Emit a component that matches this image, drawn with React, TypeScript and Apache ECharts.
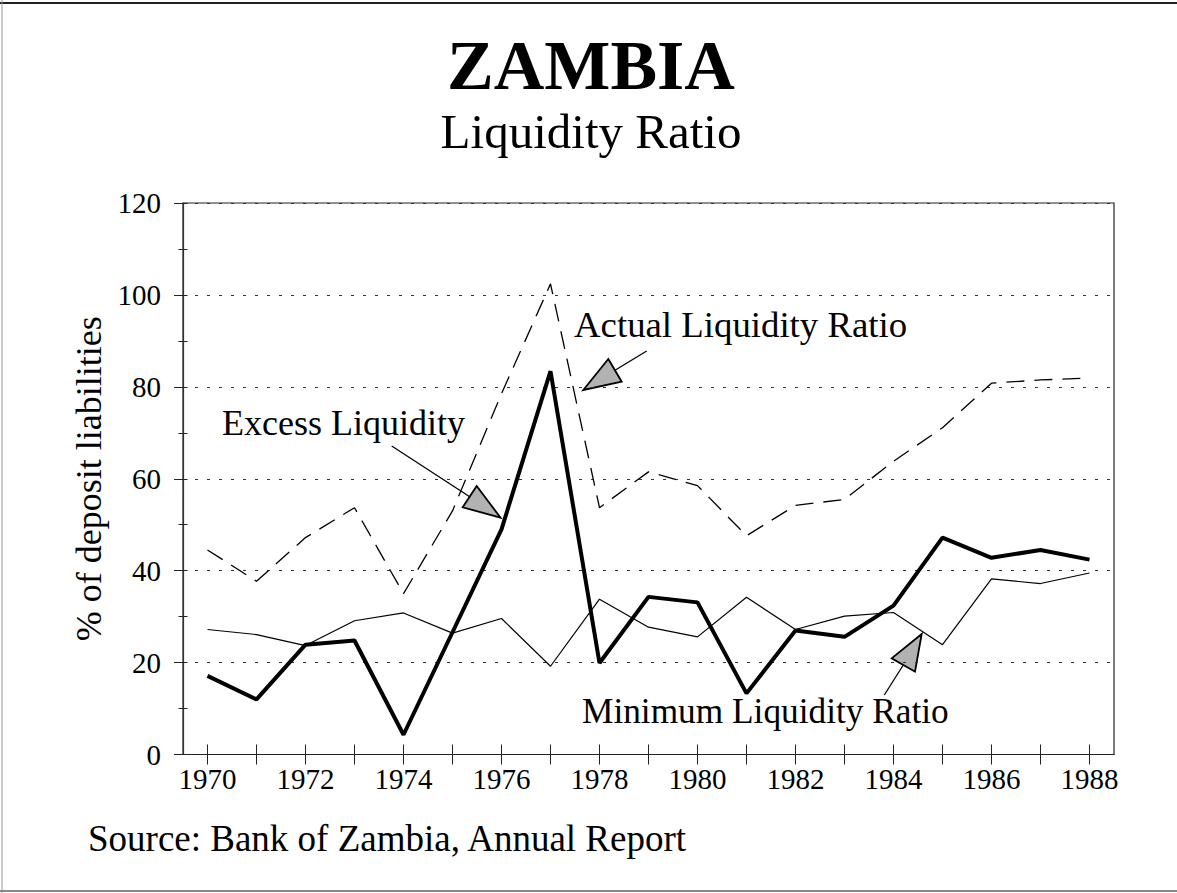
import React, { useEffect, useRef } from 'react';
import * as echarts from 'echarts';

const years = ['1970', '1971', '1972', '1973', '1974', '1975', '1976', '1977', '1978', '1979',
  '1980', '1981', '1982', '1983', '1984', '1985', '1986', '1987', '1988'];

const actualRatio = [44.5, 37.7, 47.2, 53.7, 35.0, 53.0, 78.5, 102.4, 53.7, 61.5,
  58.5, 47.6, 54.2, 55.5, 63.8, 71.1, 80.8, 81.5, 81.9];

const minimumRatio = [27.2, 26.1, 23.7, 29.1, 30.8, 26.4, 29.6, 19.2, 33.8, 27.7,
  25.6, 34.2, 27.2, 30.1, 30.9, 23.9, 38.2, 37.2, 39.5];

const excessLiquidity = [17.1, 12.0, 23.9, 24.8, 4.3, 26.6, 49.0, 83.4, 19.9, 34.3,
  33.1, 13.3, 27.0, 25.6, 32.4, 47.2, 42.8, 44.5, 42.4];

const yTicks = { min: 0, max: 120, interval: 20 };

const FONT = "'Liberation Serif', 'Times New Roman', serif";
const ARROW_FILL = '#b2b2b2';

function arrow(line: number[], tri: number[][]) {
  return {
    type: 'group',
    children: [
      {
        type: 'line',
        shape: { x1: line[0], y1: line[1], x2: line[2], y2: line[3] },
        style: { stroke: '#000', lineWidth: 1.3 },
      },
      {
        type: 'polygon',
        shape: { points: tri },
        style: { fill: ARROW_FILL, stroke: '#000', lineWidth: 1.8, lineJoin: 'miter' },
      },
    ],
  };
}

function label(text: string, x: number, y: number, size = 36) {
  return {
    type: 'text',
    x,
    y,
    style: {
      text,
      fontFamily: FONT,
      fontSize: size,
      fill: '#000',
      textAlign: 'left',
      textVerticalAlign: 'middle',
    },
  };
}

export default function App() {
  const ref = useRef<HTMLDivElement>(null);

  useEffect(() => {
    const chart = echarts.init(ref.current!, null, { renderer: 'svg' });
    chart.setOption({
      animation: false,
      backgroundColor: '#fff',
      title: {
        text: 'ZAMBIA',
        subtext: 'Liquidity Ratio',
        left: 591,
        textAlign: 'center',
        top: 30,
        itemGap: 7,
        padding: 0,
        textStyle: { fontFamily: FONT, fontSize: 70, fontWeight: 'bold', color: '#000', lineHeight: 70 },
        subtextStyle: { fontFamily: FONT, fontSize: 49, color: '#000', lineHeight: 49 },
      },
      grid: {
        left: 183,
        right: 63,
        top: 203,
        bottom: 138.5,
        show: true,
        borderColor: '#222',
        borderWidth: 1.2,
        backgroundColor: 'transparent',
      },
      xAxis: [
        {
          type: 'category',
          data: years,
          boundaryGap: true,
          axisLine: { show: true, lineStyle: { color: '#222', width: 1.2 } },
          axisTick: { show: true, alignWithLabel: true, interval: 0, length: 10, lineStyle: { color: '#222', width: 1 } },
          axisLabel: { interval: 1, margin: 10, fontFamily: FONT, fontSize: 29, color: '#000' },
          splitLine: { show: false },
        },
        {
          type: 'category',
          data: years,
          position: 'bottom',
          boundaryGap: true,
          axisLine: { show: false },
          axisTick: { show: true, inside: true, alignWithLabel: true, interval: 0, length: 10, lineStyle: { color: '#222', width: 1 } },
          axisLabel: { show: false },
          splitLine: { show: false },
        },
      ],
      yAxis: [
        {
          type: 'value',
          min: yTicks.min,
          max: yTicks.max,
          interval: yTicks.interval,
          name: '% of deposit liabilities',
          nameLocation: 'middle',
          nameGap: 76,
          nameTextStyle: { fontFamily: FONT, fontSize: 36, color: '#000' },
          axisLine: { show: true, lineStyle: { color: '#333', width: 1.2 } },
          axisTick: { show: true, length: 9, lineStyle: { color: '#222', width: 1 } },
          minorTick: { show: true, splitNumber: 2, length: 4.5, lineStyle: { color: '#222', width: 1 } },
          axisLabel: { margin: 22, fontFamily: FONT, fontSize: 29, color: '#000' },
          splitLine: { show: true, lineStyle: { color: '#333', width: 1, type: [3, 9] } },
        },
        {
          type: 'value',
          min: yTicks.min,
          max: yTicks.max,
          interval: yTicks.interval / 2,
          position: 'left',
          axisLine: { show: false },
          axisTick: { show: true, inside: true, length: 4.5, lineStyle: { color: '#222', width: 1 } },
          axisLabel: { show: false },
          splitLine: { show: false },
        },
      ],
      series: [
        {
          name: 'Actual Liquidity Ratio',
          type: 'line',
          data: actualRatio,
          symbol: 'none',
          lineStyle: { color: '#000', width: 1.3, type: [18, 10] },
          z: 3,
        },
        {
          name: 'Minimum Liquidity Ratio',
          type: 'line',
          data: minimumRatio,
          symbol: 'none',
          lineStyle: { color: '#000', width: 1.2 },
          z: 3,
        },
        {
          name: 'Excess Liquidity',
          type: 'line',
          data: excessLiquidity,
          symbol: 'none',
          lineStyle: { color: '#000', width: 4 },
          z: 4,
        },
      ],
      graphic: [
        // page frame
        { type: 'line', shape: { x1: 0, y1: 3, x2: 1177, y2: 3 }, style: { stroke: '#222', lineWidth: 2 } },
        { type: 'line', shape: { x1: 2, y1: 0, x2: 2, y2: 893 }, style: { stroke: '#999', lineWidth: 1 } },
        { type: 'line', shape: { x1: 0, y1: 891, x2: 1177, y2: 891 }, style: { stroke: '#888', lineWidth: 2 } },
        label('Excess Liquidity', 222, 423),
        label('Actual Liquidity Ratio', 574, 324.5, 36.8),
        label('Minimum Liquidity Ratio', 582, 711, 35.3),
        arrow([391.7, 446, 469.7, 496.7], [[476.7, 486], [462.7, 507.3], [500.5, 517.7]]),
        arrow([646.7, 351, 615, 370.3], [[608.3, 359], [621.7, 381.7], [583.3, 390]]),
        arrow([884.3, 695, 903.3, 665], [[921.7, 634], [891.7, 658.3], [915, 671.7]]),
        {
          type: 'text',
          x: 88,
          y: 838,
          style: {
            text: 'Source: Bank of Zambia, Annual Report',
            fontFamily: FONT,
            fontSize: 37,
            fill: '#000',
            textAlign: 'left',
            textVerticalAlign: 'middle',
          },
        },
      ],
    });
    return () => chart.dispose();
  }, []);

  return (
    <div
      ref={ref}
      style={{ position: 'absolute', left: 0, top: 0, width: 1177, height: 893, background: '#fff' }}
    />
  );
}
